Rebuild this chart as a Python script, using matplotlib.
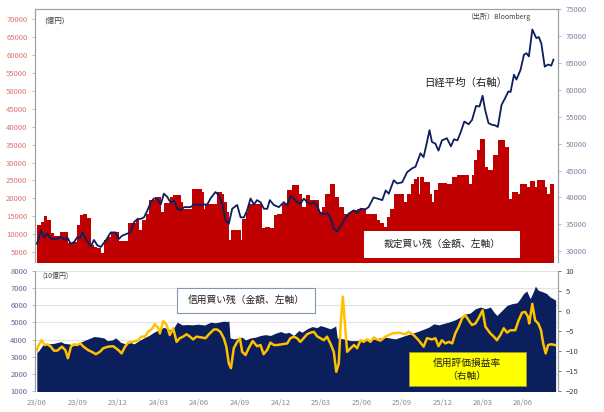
import numpy as np
import pandas as pd
import matplotlib
matplotlib.use('Agg')
import matplotlib.pyplot as plt
import matplotlib.dates as mdates
from matplotlib.patches import Rectangle

plt.rcParams['font.family'] = ['Noto Sans CJK JP', 'DejaVu Sans']

start = pd.Timestamp('2023-06-01')

# arbitrage buying balance (100M yen), step breakpoints in weeks from start
arb_weeks = [0, 1.3, 2.3, 3.4, 4.5, 5.5, 7.5, 9.9, 11.5, 13, 14, 15, 16.3, 17.4, 18.4, 19.5,
             20.6, 21.6, 22.7, 23.8, 25.2, 26.4, 29.2, 31.8, 32.9, 34, 35, 36, 38, 40, 41,
             43, 44, 46.3, 47, 50, 53.3, 53.8, 54.3, 58, 59.7, 60.2, 61.2, 61.8, 62.4, 65.6,
             66.1, 67.2, 68, 71.4, 72.6, 73.6, 75.2, 76.3, 77.4, 79, 80.6, 82.2, 84.3, 85.4,
             86.5, 88, 90.8, 91.9, 92.9, 94.5, 96.1, 97.2, 98.8, 100.4, 101.5, 103, 106,
             109.5, 110.5, 111.7, 112.8, 113.8, 115, 118.1, 119.2, 120.3, 121.3, 122.4, 122.9,
             123.5, 124.5, 126.7, 127.2, 127.8, 129.3, 132, 133.7, 135.3, 139, 140.1, 140.6,
             141.7, 142.8, 144.4, 145.3, 147, 148.6, 150.8, 151.9, 153, 155, 155.6, 157.8,
             158.8, 160.4, 161, 163.7, 164.2, 165.3, 166.4]
arb_vals = [12500, 13400, 15000, 13900, 10200, 9400, 10600, 7400, 7800, 12500, 15300, 15700,
            14400, 6900, 6400, 6000, 4600, 8300, 9200, 10200, 10600, 8100, 13000, 13900, 11100,
            13900, 15700, 19500, 20400, 16200, 18600, 20400, 20900, 19000, 17100, 22700, 21800,
            17100, 18500, 21800, 21300, 19000, 16200, 8300, 11100, 8300, 14300, 16200, 18500,
            18300, 11600, 12000, 11600, 15300, 15700, 18500, 22300, 23700, 21300, 17600, 20900,
            19500, 16200, 17600, 21300, 24100, 20400, 17600, 15700, 16200, 16700, 17100, 15700,
            13900, 13000, 12000, 14800, 17100, 21300, 19000, 21300, 24100, 25500, 26000, 21300,
            26000, 24600, 21300, 19000, 22300, 24400, 24100, 26000, 26500, 24100, 26500, 30700,
            33500, 36500, 28800, 27800, 32000, 36300, 34400, 19900, 21800, 21300, 24100, 23200,
            24900, 23200, 25100, 23200, 21300, 24100, 24100]

# Nikkei average (yen, right axis)
nk_weeks = [0, 0.6, 1.3, 2.3, 3.4, 4.5, 6.6, 7.7, 8.8, 9.9, 10.9, 12, 13, 14, 14.7, 15.7, 17.4,
            18.4, 19.5, 20.6, 22.2, 23.8, 25.4, 26.4, 27.5, 29.2, 30.2, 31.3, 32.4, 33.4, 34.5,
            35.6, 36.7, 37.7, 38.8, 39.9, 40.9, 42, 43.1, 44.2, 45.2, 46.3, 47.4, 49.5, 50.6,
            52.7, 53.8, 54.9, 55.9, 57.5, 58.6, 59.7, 60.8, 61.8, 62.9, 64.5, 65.6, 66.7, 67.7,
            68.8, 69.9, 70.9, 72, 73.1, 74.2, 75, 76.3, 77.9, 79.5, 80.6, 81.6, 82.7, 83.8, 84.8,
            86, 87, 88.1, 89.2, 90.2, 91.3, 92.4, 93.4, 94.5, 95.6, 96.7, 97.7, 98.8, 100.4, 102,
            103.1, 104.2, 105.8, 106.8, 108.4, 109.6, 111.2, 112.3, 113.3, 114.9, 116, 117.6,
            119.2, 120.8, 121.9, 123.5, 124.5, 125.6, 126.4, 127.2, 128.3, 129.3, 130.4, 132,
            133.3, 134.3, 135.4, 136.5, 137.6, 139, 140.1, 141.4, 142.5, 143.5, 144.3, 145.4,
            146.5, 147.5, 148.4, 149.6, 150.7, 151.8, 152.5, 153.6, 154.4, 155.7, 156.8, 157.6,
            158.4, 159.5, 160.8, 161.6, 162.4, 163.5, 164.6, 165.6, 166.3]
nk_vals = [31400, 32300, 33900, 32600, 33300, 32300, 32300, 32700, 32100, 32500, 31400, 31700,
           32600, 32500, 33500, 32300, 30900, 32100, 31100, 30800, 32000, 33500, 33500, 32300,
           32900, 33300, 33500, 35400, 36000, 36000, 36300, 37600, 39100, 39800, 39700, 38700,
           40700, 40100, 39000, 39500, 37900, 37600, 38200, 38200, 38700, 38600, 38700, 38700,
           39800, 41000, 40400, 38800, 35700, 35100, 37900, 38600, 36300, 36300, 37600, 39800,
           38700, 39500, 39100, 37900, 37900, 39500, 38600, 38200, 39100, 38600, 40200, 39800,
           39100, 38800, 39800, 39100, 38800, 39100, 38500, 37000, 36900, 37100, 36300, 34200,
           33700, 34500, 35700, 37000, 37600, 37100, 37900, 37800, 38200, 40000, 39800, 39500,
           41300, 40700, 43200, 42600, 42800, 44700, 45400, 45700, 48200, 47500, 50300, 52500,
           50300, 50000, 48700, 50600, 51000, 49500, 50800, 50600, 52200, 54100, 53600, 54400,
           57000, 56900, 58900, 56300, 53800, 53500, 53400, 53100, 57200, 58400, 59700, 59600,
           62800, 61900, 63700, 66500, 66800, 66200, 71200, 69600, 69800, 68600, 64300, 64700,
           64500, 65600]

# margin buying balance (1B yen, left axis)
mb_weeks = [0, 0.6, 2, 3.4, 5.5, 7.7, 8.8, 10.4, 12, 13, 14, 15.7, 17.4, 18.4, 20, 21.6, 22.7,
            24.3, 25.4, 27, 28.6, 30.2, 31.3, 32.9, 34.5, 36.1, 37.7, 39.3, 40.9, 42, 43.1,
            44.2, 45.2, 46.8, 48.4, 50, 52, 54, 56, 57.5, 58.6, 60.2, 61.3, 61.8, 62.2, 63.4,
            65, 66.1, 67.2, 68.8, 70.4, 72, 73.6, 75.2, 76.8, 78.5, 80, 81.1, 82.7, 84.3, 85.4,
            87, 88.6, 90.2, 91.3, 92.9, 94.5, 95.6, 96.2, 96.7, 98.8, 100.9, 103.1, 105.2,
            107.4, 109, 110.6, 112.2, 115.4, 118.6, 121.9, 124, 126.1, 127.8, 129.4, 130.5,
            132.6, 134.7, 136.3, 137.9, 139.5, 141.2, 142.8, 144.4, 146, 147.1, 148.1, 149.7,
            151.4, 153, 154.6, 155.6, 156.7, 157.7, 158.8, 159.8, 160.5, 161.4, 163, 164.1,
            165.2, 166.2, 167]
mb_vals = [3250, 3350, 3700, 3750, 3780, 3880, 3780, 3750, 3650, 3750, 3840, 3980, 4100, 4180,
           4150, 4100, 3940, 3980, 4100, 3840, 3750, 3840, 3750, 3940, 4100, 4240, 4430, 4570,
           4720, 4630, 4570, 4720, 5020, 4860, 4880, 4860, 4900, 4850, 5020, 4980, 5020, 5080,
           5050, 5100, 4100, 4040, 4100, 4140, 3980, 4100, 4140, 4240, 4290, 4240, 4370, 4470,
           4370, 4430, 4240, 4530, 4430, 4630, 4760, 4700, 4820, 4730, 4630, 4730, 4800, 4100,
           4040, 3940, 3940, 3980, 3980, 4040, 4100, 4140, 4040, 4240, 4430, 4570, 4720, 4920,
           4860, 4920, 5020, 5160, 5310, 5490, 5550, 5800, 5900, 5800, 5900, 5610, 5410, 5700,
           6000, 6100, 6150, 6390, 6690, 6840, 6390, 6780, 7120, 6880, 6780, 6690, 6490, 6390,
           6300]

# margin valuation profit/loss ratio (%, right axis)
mv_weeks = [0, 0.4, 1.5, 2.6, 3.4, 4.5, 5.5, 6.6, 8.1, 9.2, 10, 11, 12, 13, 14, 15, 16.6, 17.7,
            19, 20.3, 21.4, 23, 24.6, 26.3, 27.3, 28.4, 29.4, 31, 32.6, 33.7, 34.8, 35.8, 36.9,
            38, 39.1, 39.6, 40.7, 41.8, 42.8, 43.9, 45, 46, 47.1, 48.2, 49.3, 50.3, 51.4, 53,
            54.3, 55.4, 57, 58, 59.1, 60.2, 61, 61.8, 62.5, 63.4, 64.5, 65.4, 66.1, 67.2, 68.2,
            69.5, 70.9, 72, 73, 74.1, 75.2, 76.3, 77.4, 79, 80.6, 81.6, 82.7, 83.8, 84.8, 85.9,
            87, 88.1, 89.2, 90.2, 91.3, 92.4, 93.4, 94.5, 95.6, 96.4, 97.2, 97.9, 98.5, 99.1,
            99.9, 101, 102.1, 103.1, 104.2, 105.2, 106.3, 107.4, 108.5, 109.5, 110.6, 112.2,
            114.4, 116.5, 118.6, 119.7, 121.3, 122.9, 124.5, 125.6, 127.2, 128.3, 129.3, 130.4,
            131.5, 132.6, 133.7, 134.7, 135.8, 136.9, 137.9, 139, 140.1, 141.2, 142.2, 143.5,
            144.4, 146, 147.1, 148.1, 149.2, 150.3, 151.4, 152.4, 154, 155.1, 156.2, 157.2,
            158.1, 158.5, 159.5, 160.4, 161.4, 162.3, 163, 163.8, 164.6, 165.6, 166.8]
mv_vals = [-9.8, -8.9, -7.3, -8.5, -8.3, -8.9, -9.9, -9.9, -8.9, -9.8, -11.8, -8.9, -8.3, -8.5,
           -8.1, -8.9, -9.8, -10.2, -10.8, -10.2, -9.3, -8.9, -8.8, -9.8, -10.6, -8.9, -7.9,
           -7.7, -7.3, -6.4, -6.4, -5.2, -4.6, -3.3, -4.2, -5.6, -2.5, -3.5, -6.0, -4.3, -7.7,
           -6.8, -6.4, -5.8, -6.4, -7.1, -6.4, -6.6, -6.8, -5.8, -4.6, -4.6, -5.2, -6.8, -8.9,
           -13.1, -14.3, -9.3, -7.7, -6.8, -10.2, -11.0, -9.3, -7.5, -8.8, -8.5, -10.8, -9.8,
           -7.9, -8.5, -8.5, -8.3, -8.1, -6.8, -6.4, -6.8, -7.7, -6.8, -5.8, -5.4, -5.2, -6.3,
           -6.8, -7.3, -6.4, -8.1, -10.2, -15.2, -13.1, -2.3, 3.6, -2.3, -10.2, -9.3, -8.5,
           -9.3, -7.3, -7.7, -7.1, -7.7, -6.6, -7.1, -7.4, -6.4, -5.6, -5.4, -5.8, -5.2, -6.0,
           -7.3, -8.9, -6.8, -7.1, -6.8, -8.8, -7.3, -8.1, -7.7, -8.1, -5.6, -3.9, -1.8, -1.0,
           -2.3, -3.5, -3.1, -1.8, 0.2, -3.9, -5.6, -6.4, -7.3, -6.0, -4.3, -5.4, -4.8, -4.8,
           -2.3, -0.4, -0.2, -1.4, -3.1, 1.8, -2.3, -3.1, -4.8, -8.1, -10.6, -8.5, -8.3, -8.5]


def to_dates(weeks):
    return start + pd.to_timedelta(np.array(weeks) * 7, unit='D')


fig = plt.figure(figsize=(6.04, 4.12), dpi=100)
ax1 = fig.add_axes([0.058, 0.364, 0.866, 0.614])
ax2 = fig.add_axes([0.058, 0.051, 0.866, 0.291])
ax1r = ax1.twinx()
ax2r = ax2.twinx()

xmin = start - pd.Timedelta(days=4)
xmax = start + pd.Timedelta(days=7 * 167.8)

# top panel
ax1.fill_between(to_dates(arb_weeks), arb_vals, 0, step='post', color='#C00000', lw=0)
ax1r.plot(to_dates(nk_weeks), nk_vals, color='#0B1F5E', lw=1.3)
ax1.set_ylim(2200, 72900)
ax1r.set_ylim(28000, 75000)
ax1.set_yticks(range(5000, 70001, 5000))
ax1r.set_yticks(range(30000, 75001, 5000))
for a in (ax1, ax1r):
    a.set_xlim(xmin, xmax)
    a.set_xticks([])
    a.spines['bottom'].set_visible(False)
    for s in ('left', 'right', 'top'):
        a.spines[s].set_color('#A0A0A0')
        a.spines[s].set_linewidth(0.8)
ax1.tick_params(axis='y', labelsize=5.5, labelcolor='#E07070', color='#A0A0A0', length=2, width=0.5)
ax1r.tick_params(axis='y', labelsize=5.5, labelcolor='#7A86A8', color='#A0A0A0', length=2, width=0.5)

# bottom panel
ax2.set_axisbelow(True)
ax2.grid(axis='y', color='#E2E2E2', lw=0.8)
ax2.fill_between(to_dates(mb_weeks), mb_vals, 0, color='#0A1F5C', lw=0)
ax2r.plot(to_dates(mv_weeks), mv_vals, color='#FFC000', lw=1.8)
ax2.set_ylim(1000, 8000)
ax2r.set_ylim(-20, 10)
ax2.set_yticks(range(1000, 8001, 1000))
ax2r.set_yticks(range(-20, 11, 5))
for a in (ax2, ax2r):
    a.set_xlim(xmin, xmax)
    a.spines['top'].set_visible(False)
    a.spines['bottom'].set_visible(False)
    for s in ('left', 'right'):
        a.spines[s].set_color('#A0A0A0')
        a.spines[s].set_linewidth(0.8)
ax2.xaxis.set_major_locator(mdates.MonthLocator(bymonth=[3, 6, 9, 12]))
ax2.xaxis.set_major_formatter(mdates.DateFormatter('%y/%m'))
ax2.tick_params(axis='x', labelsize=5.5, labelcolor='#8C8C8C', length=0, pad=6)
ax2.tick_params(axis='y', labelsize=5.5, labelcolor='#5A6894', color='#A0A0A0', length=2, width=0.5)
ax2r.tick_params(axis='y', labelsize=5.5, labelcolor='#404040', color='#404040', length=2, width=0.5)


def fx(px):
    return px / 604


def fy(py):
    return 1 - py / 412


fig.text(fx(44), fy(21), '(億円)', fontsize=5.5, color='#404040', va='center')
fig.text(fx(466), fy(17), '（出所）Bloomberg', fontsize=5, color='#404040', va='center')
fig.text(fx(466), fy(83), '日経平均（右軸）', fontsize=7.5, color='#202020', ha='center', va='center')

fig.add_artist(Rectangle((fx(364), fy(258)), fx(156), 27 / 412, facecolor='white', edgecolor='none'))
fig.text(fx(442), fy(244), '裁定買い残（金額、左軸）', fontsize=7, color='#202020', ha='center', va='center')

fig.text(fx(42), fy(276), '(10億円)', fontsize=5, color='#404040', va='center')
fig.add_artist(Rectangle((fx(177), fy(313)), fx(138), 25 / 412, facecolor='white',
                         edgecolor='#8497B0', lw=0.8))
fig.text(fx(246), fy(300), '信用買い残（金額、左軸）', fontsize=7, color='#202020', ha='center', va='center')

fig.add_artist(Rectangle((fx(409), fy(386)), fx(117), 34 / 412, facecolor='#FFFF00',
                         edgecolor='#9A9A30', lw=0.6))
fig.text(fx(467), fy(369), '信用評価損益率\n（右軸）', fontsize=7, color='#202020', ha='center',
         va='center', linespacing=1.4)

fig.savefig('out.png', dpi=100)
